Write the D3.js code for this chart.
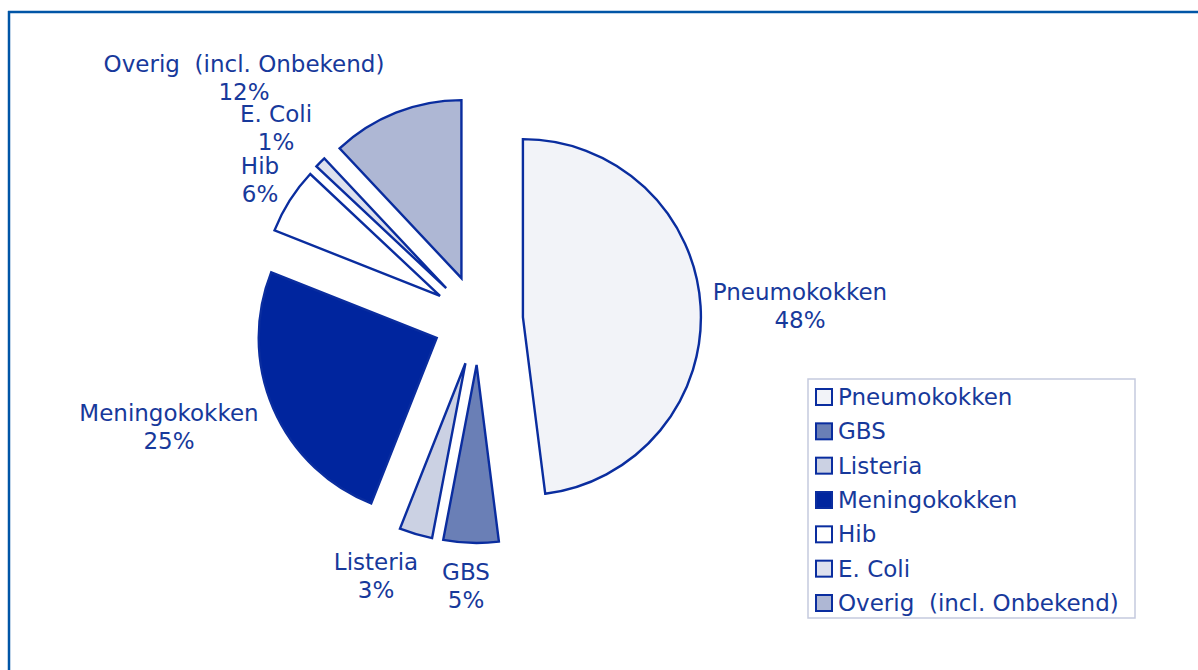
<!DOCTYPE html>
<html>
<head>
<meta charset="utf-8">
<script src="https://cdn.jsdelivr.net/npm/d3@7"></script>
<style>
  html, body { margin: 0; padding: 0; background: #ffffff; }
  svg { display: block; }
  text { font-family: "DejaVu Sans", Verdana, sans-serif; white-space: pre; }
</style>
</head>
<body>
<svg id="chart" width="1198" height="670"></svg>
<script>
// ---- data ----
const categories = ["Pneumokokken", "GBS", "Listeria", "Meningokokken", "Hib", "E. Coli", "Overig  (incl. Onbekend)"];
const values = [48, 5, 3, 25, 6, 1, 12];
const fills = ["#f2f3f8", "#6a7fb6", "#cbd1e3", "#00259e", "#ffffff", "#dee1ee", "#aeb7d4"];

// ---- layout (styling only) ----
const W = 1198, H = 670;
const cx = 478, cy = 320, R = 178, explode = 45;
const textColor = "#17399b";
const strokeColor = "#0a2d9f";
const fontSize = 23, lineH = 28;
// label anchor (center x, first baseline y) per category
const labelPos = {
  "Pneumokokken": [800, 300],
  "GBS": [466, 580],
  "Listeria": [376, 570],
  "Meningokokken": [169, 421],
  "Hib": [260, 174],
  "E. Coli": [276, 122],
  "Overig  (incl. Onbekend)": [244, 72]
};

const svg = d3.select("#chart");

// frame lines (top and left)
svg.append("line").attr("x1", 8).attr("y1", 12).attr("x2", W).attr("y2", 12)
  .attr("stroke", "#0055a6").attr("stroke-width", 2.5);
svg.append("line").attr("x1", 9).attr("y1", 11).attr("x2", 9).attr("y2", H)
  .attr("stroke", "#0055a6").attr("stroke-width", 2.5);

const pie = d3.pie().sort(null).value(d => d.value);
const arcs = pie(categories.map((c, i) => ({ name: c, value: values[i], fill: fills[i] })));
const arc = d3.arc().innerRadius(0).outerRadius(R);

const g = svg.append("g").attr("transform", `translate(${cx},${cy})`);
g.selectAll("path.slice").data(arcs).enter().append("path")
  .attr("class", "slice")
  .attr("d", arc)
  .attr("transform", d => {
    const m = (d.startAngle + d.endAngle) / 2;
    return `translate(${Math.sin(m) * explode},${-Math.cos(m) * explode})`;
  })
  .attr("fill", d => d.data.fill)
  .attr("stroke", strokeColor)
  .attr("stroke-width", 2.4)
  .attr("stroke-linejoin", "miter");

// slice labels
const lbl = svg.append("g");
arcs.forEach(d => {
  const p = labelPos[d.data.name];
  const t = lbl.append("text")
    .attr("text-anchor", "middle")
    .attr("fill", textColor)
    .attr("font-size", fontSize);
  t.append("tspan").attr("x", p[0]).attr("y", p[1]).text(d.data.name);
  t.append("tspan").attr("x", p[0]).attr("y", p[1] + lineH).text(d.data.value + "%");
});

// legend
const lx = 808, ly = 379, lw = 327, lh = 239;
const leg = svg.append("g");
leg.append("rect").attr("x", lx).attr("y", ly).attr("width", lw).attr("height", lh)
  .attr("fill", "#ffffff").attr("stroke", "#c5cade").attr("stroke-width", 1.5);
const rowY = d3.scalePoint().domain(categories).range([405, 611]);
categories.forEach((c, i) => {
  const y = rowY(c);
  leg.append("rect").attr("x", 816).attr("y", y - 16).attr("width", 16).attr("height", 16)
    .attr("fill", fills[i]).attr("stroke", strokeColor).attr("stroke-width", 2);
  leg.append("text").attr("x", 838).attr("y", y)
    .attr("fill", textColor).attr("font-size", fontSize).text(c);
});
</script>
</body>
</html>
